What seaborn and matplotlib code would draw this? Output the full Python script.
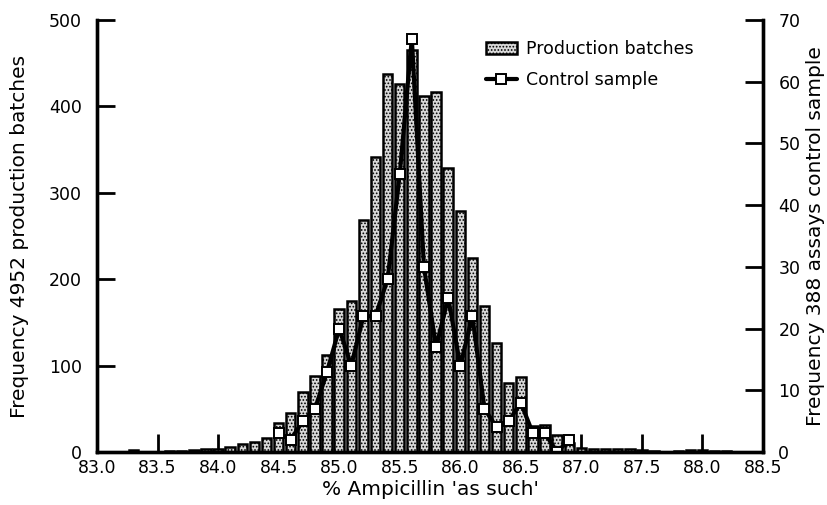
import numpy as np
import pandas as pd
import matplotlib
matplotlib.use('Agg')
import matplotlib.pyplot as plt
import seaborn as sns
from matplotlib.patches import Patch
from matplotlib.lines import Line2D

# ---- data ----
prod_x = [83.3, 83.6, 83.7, 83.8, 83.9, 84.0, 84.1, 84.2, 84.3, 84.4,
          84.5, 84.6, 84.7, 84.8, 84.9, 85.0, 85.1, 85.2, 85.3, 85.4,
          85.5, 85.6, 85.7, 85.8, 85.9, 86.0, 86.1, 86.2, 86.3, 86.4,
          86.5, 86.6, 86.7, 86.8, 86.9, 87.0, 87.1, 87.2, 87.3, 87.4,
          87.5, 87.6, 87.8, 87.9, 88.0, 88.1, 88.2]
prod_n = [2, 1, 1, 2, 3, 3, 6, 9, 12, 16,
          33, 45, 70, 88, 112, 166, 175, 268, 341, 438,
          426, 465, 412, 417, 329, 279, 224, 169, 126, 80,
          87, 30, 31, 20, 10, 5, 3, 4, 4, 4,
          2, 1, 1, 2, 2, 1, 1]

ctrl_x = [84.5, 84.6, 84.7, 84.8, 84.9, 85.0, 85.1, 85.2, 85.3, 85.4,
          85.5, 85.6, 85.7, 85.8, 85.9, 86.0, 86.1, 86.2, 86.3, 86.4,
          86.5, 86.6, 86.7, 86.8, 86.9]
ctrl_n = [3, 2, 5, 7, 13, 20, 14, 22, 22, 28,
          45, 67, 30, 17, 25, 14, 22, 7, 4, 5,
          8, 3, 3, 0, 2]

x_ticks = [83.0, 83.5, 84.0, 84.5, 85.0, 85.5, 86.0, 86.5, 87.0, 87.5, 88.0, 88.5]
x_tick_labels = ['83.0', '83.5', '84.0', '84.5', '85.0', '85.5', '86.0',
                 '86.5', '87.0', '87.5', '88.0', '88.5']
left_ticks = [0, 100, 200, 300, 400, 500]
right_ticks = [0, 10, 20, 30, 40, 50, 60, 70]

prod_df = pd.DataFrame({'pct': prod_x, 'count': prod_n})
ctrl_df = pd.DataFrame({'pct': ctrl_x, 'count': ctrl_n})

# ---- style ----
sns.set_style('white')
plt.rcParams['font.family'] = ['DejaVu Sans']
plt.rcParams['hatch.linewidth'] = 0.8
plt.rcParams['hatch.color'] = 'black'
plt.rcParams['text.color'] = 'black'
plt.rcParams['axes.labelcolor'] = 'black'
plt.rcParams['xtick.color'] = 'black'
plt.rcParams['ytick.color'] = 'black'

fig = plt.figure(figsize=(8.28, 5.05), dpi=100)
ax = fig.add_axes([97 / 828, 53 / 505, 666 / 828, 432 / 505])

sns.histplot(data=prod_df, x='pct', weights='count', binwidth=0.1,
             binrange=(82.95, 88.55), shrink=0.78,
             ax=ax, color='#d8d8d8', edgecolor='black', linewidth=1.8,
             hatch='.....', alpha=1)

ax.set_xlim(83.0, 88.5)
ax.set_ylim(0, 500)
ax.set_xticks(x_ticks)
ax.set_xticklabels(x_tick_labels)
ax.set_yticks(left_ticks)

ax2 = ax.twinx()
sns.lineplot(data=ctrl_df, x='pct', y='count', ax=ax2, color='black',
             linewidth=3.0, marker='s', markersize=7, markerfacecolor='white',
             markeredgecolor='black', markeredgewidth=1.4)
ax2.set_ylim(0, 70)
ax2.set_yticks(right_ticks)

for a in (ax, ax2):
    a.spines['top'].set_visible(False)
    for s in ('left', 'right', 'bottom'):
        a.spines[s].set_linewidth(2.4)
        a.spines[s].set_color('black')

ax.tick_params(axis='both', direction='in', length=13, width=2, labelsize=12.5,
               colors='black')
ax.tick_params(axis='y', left=True, right=False, pad=11)
ax.tick_params(axis='x', bottom=True, pad=5)
ax2.tick_params(axis='y', direction='in', length=13, width=2, labelsize=12.5,
                right=True, colors='black', pad=11)

ax.set_xlabel("% Ampicillin 'as such'", fontsize=14.5, labelpad=2)
ax.set_ylabel('Frequency 4952 production batches', fontsize=14.5, labelpad=14)
ax2.set_ylabel('Frequency 388 assays control sample', fontsize=14.5, labelpad=4)

handles = [Patch(facecolor='#d8d8d8', edgecolor='black', hatch='.....', linewidth=1.8),
           Line2D([], [], color='black', lw=3.0, marker='s', markersize=7,
                  markerfacecolor='white', markeredgecolor='black',
                  markeredgewidth=1.4)]
ax2.legend(handles, ['Production batches', 'Control sample'],
           loc='upper left', bbox_to_anchor=(0.56, 0.99), frameon=False,
           fontsize=12.5, handlelength=1.8, handletextpad=0.5,
           labelspacing=0.75)

fig.savefig('out.png', dpi=100)
